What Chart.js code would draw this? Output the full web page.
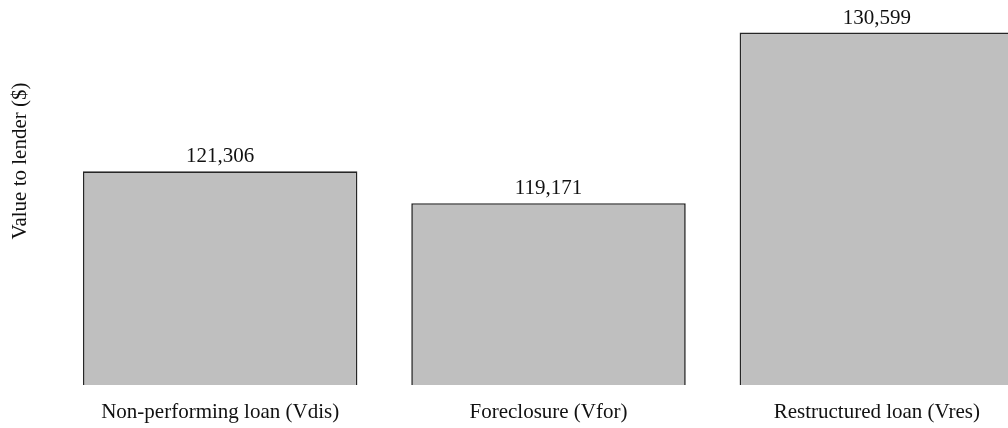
<!DOCTYPE html>
<html>
<head>
<meta charset="utf-8">
<script src="https://cdn.jsdelivr.net/npm/chart.js@4/dist/chart.umd.min.js"></script>
<style>
    html, body { margin: 0; padding: 0; background: #fff; }
    #wrap { position: relative; width: 1008px; height: 428px; overflow: hidden; }
    #valueChart { position: absolute; left: 0; top: -100px; }
</style>
</head>
<body>
<div id="wrap">
    <canvas id="valueChart" width="1100" height="560"></canvas>
</div>
<script>
const categories = ['Non-performing loan (Vdis)', 'Foreclosure (Vfor)', 'Restructured loan (Vres)'];
const values = [121306, 119171, 130599];
const axisMin = 107000;
const axisMax = 137000;

const serif = 'Liberation Serif, Times New Roman, serif';

// numbers above each bar
const barLabels = {
    id: 'barLabels',
    afterDatasetsDraw(chart) {
        const ctx = chart.ctx;
        const meta = chart.getDatasetMeta(0);
        ctx.save();
        ctx.font = '21px ' + serif;
        ctx.fillStyle = '#111';
        ctx.textAlign = 'center';
        ctx.textBaseline = 'alphabetic';
        meta.data.forEach(function (bar, i) {
            ctx.fillText(values[i].toLocaleString('en-US'), bar.x, bar.y - 9);
        });
        ctx.restore();
    }
};

const valueChart = document.querySelector('#valueChart');

new Chart(valueChart, {
    type: 'bar',
    data: {
        labels: categories,
        datasets: [{
            data: values,
            backgroundColor: '#bfbfbf',
            borderColor: '#262626',
            borderWidth: 1.6,
            categoryPercentage: 1,
            barPercentage: 0.836
        }]
    },
    options: {
        responsive: false,
        animation: false,
        layout: {
            padding: { top: 37, right: 59, left: 0, bottom: 0 }
        },
        plugins: {
            legend: { display: false },
            tooltip: { enabled: false }
        },
        scales: {
            x: {
                grid: { display: false, drawTicks: false },
                border: { display: false },
                ticks: {
                    color: '#111',
                    padding: 15,
                    maxRotation: 0,
                    font: { family: serif, size: 21 }
                },
                afterFit: function (scale) { scale.height = 75; }
            },
            y: {
                min: axisMin,
                max: axisMax,
                grid: { display: false, drawTicks: false },
                border: { display: false },
                ticks: { display: false },
                title: {
                    display: true,
                    text: 'Value to lender ($)',
                    color: '#111',
                    padding: { top: 8, bottom: 0 },
                    font: { family: serif, size: 21 }
                },
                afterFit: function (scale) { scale.width = 56; }
            }
        }
    },
    plugins: [barLabels]
});
</script>
</body>
</html>
